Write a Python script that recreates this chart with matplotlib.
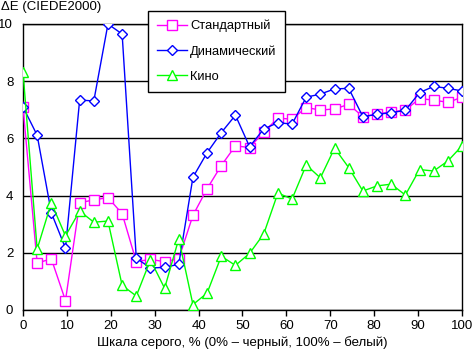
import matplotlib
matplotlib.use("Agg")
import matplotlib.pyplot as plt
import numpy as np

plt.rcParams['font.family'] = ['Liberation Sans', 'DejaVu Sans']

n_points = 32
gray_levels = [i * 100.0 / 31 for i in range(n_points)]

standard = [7.10, 1.64, 1.79, 0.33, 3.75, 3.85, 3.93, 3.37, 1.69, 1.77, 1.69, 1.79,
            3.31, 4.24, 5.05, 5.74, 5.68, 6.22, 6.71, 6.67, 7.08, 6.99, 7.03, 7.19,
            6.76, 6.85, 6.93, 6.99, 7.39, 7.34, 7.26, 7.44]
dynamic = [7.10, 6.11, 3.40, 2.16, 7.34, 7.31, 10.0, 9.65, 1.81, 1.47, 1.49, 1.60,
           4.64, 5.50, 6.20, 6.81, 5.71, 6.33, 6.55, 6.50, 7.44, 7.55, 7.73, 7.75,
           6.76, 6.84, 6.90, 6.98, 7.60, 7.82, 7.75, 7.66]
cinema = [8.33, 2.13, 3.75, 2.59, 3.46, 3.07, 3.11, 0.86, 0.49, 1.75, 0.76, 2.49,
          0.19, 0.59, 1.88, 1.56, 1.98, 2.66, 4.09, 3.88, 5.07, 4.62, 5.66, 4.98,
          4.16, 4.34, 4.40, 4.02, 4.91, 4.86, 5.21, 5.74]

series_names = ["Стандартный", "Динамический", "Кино"]
x_ticks = list(range(0, 101, 10))
y_ticks = list(range(0, 11, 2))

fig = plt.figure(figsize=(4.72, 3.53), dpi=100)
ax = fig.add_axes([23/472, 1-310/353, (462-23)/472, (310-24)/353])

ax.plot(gray_levels, standard, color='#FF00FF', lw=1, marker='s', ms=6.5,
        mfc='white', mec='#FF00FF', mew=1, label=series_names[0], zorder=3)
ax.plot(gray_levels, dynamic, color='#0000FF', lw=1, marker='D', ms=5.2,
        mfc='white', mec='#0000FF', mew=1, label=series_names[1], zorder=3)
ax.plot(gray_levels, cinema, color='#00FF00', lw=1, marker='^', ms=7,
        mfc='white', mec='#00FF00', mew=1, label=series_names[2], zorder=3)

ax.set_xlim(0, 100)
ax.set_ylim(0, 10)
ax.set_xticks(x_ticks)
ax.set_yticks(y_ticks)
ax.yaxis.grid(True, color='black', lw=1)
ax.set_axisbelow(True)
for s in ax.spines.values():
    s.set_color('black')
    s.set_linewidth(1)
ax.tick_params(axis='x', direction='out', length=4, width=1, labelsize=9.5, pad=3)
ax.tick_params(axis='y', length=0, labelsize=9.5, pad=7)

fig.text(1/472, 1-7/353, "ΔE (CIEDE2000)", fontsize=9.5, va='center', ha='left')
ax.set_xlabel("Шкала серого, % (0% – черный, 100% – белый)", fontsize=9.5, labelpad=3)

leg = ax.legend(loc='upper left', bbox_to_anchor=((148-23)/439, 1+(24-10.7)/286),
                frameon=True, fancybox=False, edgecolor='black', framealpha=1,
                fontsize=9.3, handlelength=2.3, borderpad=0.7, labelspacing=1.0,
                handletextpad=0.25, borderaxespad=0)
leg.get_frame().set_linewidth(1)
leg.set_zorder(5)

fig.savefig("out.png", dpi=100)
